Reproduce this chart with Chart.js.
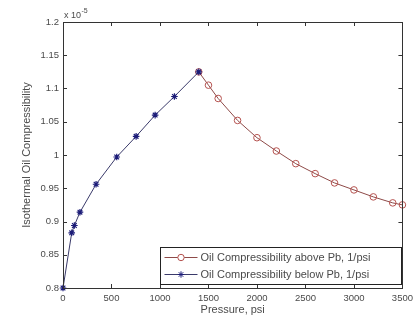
<!DOCTYPE html>
<html>
<head>
<meta charset="utf-8">
<script src="https://cdn.jsdelivr.net/npm/chart.js@4/dist/chart.umd.min.js"></script>
<style>
html,body{margin:0;padding:0;background:#fff;}
#wrap{position:relative;width:418px;height:321px;}
</style>
</head>
<body>
<div id="wrap"><canvas id="c" width="418" height="321"></canvas></div>
<script>
// Data (compressibility in units of 1e-5 1/psi)
const abovePressure = [1400, 1500, 1600, 1800, 2000, 2200, 2400, 2600, 2800, 3000, 3200, 3400, 3500];
const aboveComp     = [1.125, 1.105, 1.085, 1.052, 1.026, 1.006, 0.987, 0.972, 0.958, 0.9475, 0.937, 0.928, 0.925];
const belowPressure = [0, 90, 117, 175, 341, 554, 754, 950, 1149, 1400];
const belowComp     = [0.800, 0.883, 0.894, 0.914, 0.956, 0.997, 1.028, 1.060, 1.088, 1.125];
const xTicks = [0, 500, 1000, 1500, 2000, 2500, 3000, 3500];
const yTicks = [0.8, 0.85, 0.9, 0.95, 1, 1.05, 1.1, 1.15, 1.2];
const seriesLabels = ['Oil Compressibility above Pb, 1/psi', 'Oil Compressibility below Pb, 1/psi'];
const xTitle = 'Pressure, psi';
const yTitle = 'Isothermal Oil Compressibility';

const RED = '#b5524f';
const REDLINE = '#8e4a48';
const BLUE = '#1c1c78';
const BLUELINE = '#3a3a6a';
const FONT = '"Liberation Sans", Arial, sans-serif';
const TXT = '#4a4a4a';

const toPts = (xs, ys) => xs.map((x, i) => ({x: x, y: ys[i]}));

const framePlugin = {
  id: 'frame',
  afterDraw(chart) {
    const {ctx, chartArea: a, scales: {x, y}} = chart;
    ctx.save();
    ctx.strokeStyle = '#333';
    ctx.lineWidth = 1;
    ctx.strokeRect(Math.round(a.left) + 0.5, Math.round(a.top) + 0.5, Math.round(a.right - a.left), Math.round(a.bottom - a.top));
    ctx.beginPath();
    const tl = 4;
    xTicks.forEach(v => {
      const px = Math.round(x.getPixelForValue(v)) + 0.5;
      ctx.moveTo(px, a.bottom); ctx.lineTo(px, a.bottom - tl);
      ctx.moveTo(px, a.top); ctx.lineTo(px, a.top + tl);
    });
    yTicks.forEach(v => {
      const py = Math.round(y.getPixelForValue(v)) + 0.5;
      ctx.moveTo(a.left, py); ctx.lineTo(a.left + tl, py);
      ctx.moveTo(a.right, py); ctx.lineTo(a.right - tl, py);
    });
    ctx.stroke();

    // exponent label
    ctx.fillStyle = TXT;
    ctx.font = '9px ' + FONT;
    ctx.textBaseline = 'alphabetic';
    ctx.textAlign = 'left';
    ctx.fillText('x 10', a.left + 1, a.top - 4);
    const w = ctx.measureText('x 10').width;
    ctx.font = '7px ' + FONT;
    ctx.fillText('-5', a.left + 1 + w + 0.5, a.top - 9);

    // legend
    const lx = 160.5, ly = 247.5, lw = 241, lh = 37;
    ctx.fillStyle = '#fff';
    ctx.fillRect(lx, ly, lw, lh);
    ctx.strokeStyle = '#222';
    ctx.strokeRect(lx, ly, lw, lh);
    const rows = [
      {label: seriesLabels[0], line: REDLINE, mk: 'circle', mc: RED, cy: ly + 10},
      {label: seriesLabels[1], line: BLUELINE, mk: 'star', mc: BLUE, cy: ly + 27}
    ];
    rows.forEach(r => {
      ctx.strokeStyle = r.line;
      ctx.lineWidth = 1;
      ctx.beginPath();
      ctx.moveTo(lx + 4, r.cy); ctx.lineTo(lx + 37, r.cy);
      ctx.stroke();
      ctx.strokeStyle = r.mc;
      Chart.helpers.drawPoint(ctx, {pointStyle: r.mk, radius: 3.2, borderWidth: 1}, lx + 20.5, r.cy);
      ctx.fillStyle = TXT;
      ctx.font = '11px ' + FONT;
      ctx.textBaseline = 'middle';
      ctx.textAlign = 'left';
      ctx.fillText(r.label, lx + 40, r.cy + 0.5);
    });
    ctx.restore();
  }
};

new Chart(document.getElementById('c'), {
  type: 'line',
  data: {
    datasets: [
      {
        label: seriesLabels[0],
        data: toPts(abovePressure, aboveComp),
        borderColor: REDLINE,
        borderWidth: 1,
        pointStyle: 'circle',
        pointRadius: 3.3,
        pointBorderColor: RED,
        pointBackgroundColor: 'rgba(0,0,0,0)',
        pointBorderWidth: 1,
        tension: 0,
        clip: false,
        order: 2
      },
      {
        label: seriesLabels[1],
        data: toPts(belowPressure, belowComp),
        borderColor: BLUELINE,
        borderWidth: 1,
        pointStyle: 'star',
        pointRadius: 3.3,
        pointBorderColor: BLUE,
        pointBackgroundColor: BLUE,
        pointBorderWidth: 1.2,
        tension: 0,
        clip: false,
        order: 1
      }
    ]
  },
  options: {
    responsive: false,
    animation: false,
    devicePixelRatio: 1,
    layout: {padding: {left: 0, right: 15, top: 22, bottom: 0}},
    plugins: {legend: {display: false}, tooltip: {enabled: false}},
    scales: {
      x: {
        type: 'linear',
        min: 0, max: 3500,
        afterFit(s) { s.height = 33; },
        afterBuildTicks(s) { s.ticks = xTicks.map(v => ({value: v})); },
        grid: {display: false, drawTicks: false},
        border: {display: false},
        ticks: {
          color: TXT, font: {family: FONT, size: 9.5}, padding: 5, maxRotation: 0,
          callback: v => String(v)
        },
        title: {display: true, text: xTitle, color: TXT, font: {family: FONT, size: 11}, padding: {top: 0, bottom: 4}}
      },
      y: {
        type: 'linear',
        min: 0.8, max: 1.2,
        afterFit(s) { s.width = 63; },
        afterBuildTicks(s) { s.ticks = yTicks.map(v => ({value: v})); },
        grid: {display: false, drawTicks: false},
        border: {display: false},
        ticks: {
          color: TXT, font: {family: FONT, size: 9.5}, padding: 4,
          callback: v => String(Math.round(v * 100) / 100)
        },
        title: {display: true, text: yTitle, color: TXT, font: {family: FONT, size: 11}, padding: {top: 20, bottom: 0}}
      }
    }
  },
  plugins: [framePlugin]
});
</script>
</body>
</html>
